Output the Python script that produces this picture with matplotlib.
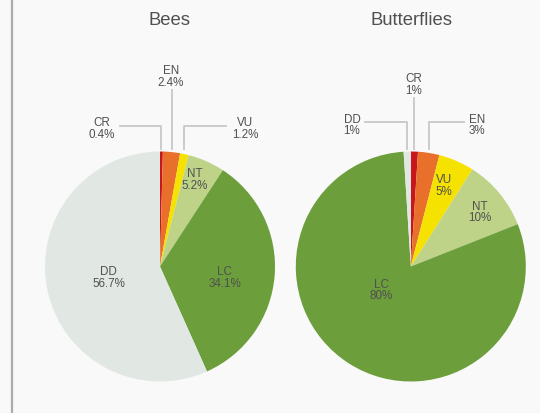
import numpy as np
import matplotlib.pyplot as plt

categories = ['CR', 'EN', 'VU', 'NT', 'LC', 'DD']
bees = [0.4, 2.4, 1.2, 5.2, 34.1, 56.7]
butterflies = [1, 3, 5, 10, 80, 1]
bees_labels = ['0.4%', '2.4%', '1.2%', '5.2%', '34.1%', '56.7%']
butterflies_labels = ['1%', '3%', '5%', '10%', '80%', '1%']
colors = ['#c8161d', '#e8702a', '#f6e200', '#bed388', '#6c9e3b', '#e1e8e3']

plt.rcParams['font.family'] = ['Liberation Sans', 'DejaVu Sans']
text_color = '#505050'
line_color = '#c8c8c8'
bg = '#f9f9f9'

# layout (pixel coords, y down): text x, text y, leader kind, leader start
bees_layout = {'CR': (102, 129, 'h', 120), 'EN': (171, 77, 'v', 91),
               'VU': (245, 129, 'h', 226), 'NT': (194.5, 180, None, None),
               'LC': (224.5, 278, None, None), 'DD': (108.5, 278, None, None)}
butterflies_layout = {'CR': (414, 85, 'v', 99), 'EN': (477, 125.5, 'h', 464),
                      'VU': (444, 186, None, None), 'NT': (479.5, 212.5, None, None),
                      'LC': (381, 290.5, None, None), 'DD': (352, 125.5, 'h', 365)}

panels = [('Bees', bees, bees_labels, bees_layout, (160, 267.5), 169, 127),
          ('Butterflies', butterflies, butterflies_labels, butterflies_layout, (410.8, 267.5), 411, 123)]
radius = 115

fig = plt.figure(figsize=(5.4, 4.14), dpi=100, facecolor=bg)
ax = fig.add_axes([0, 0, 1, 1])

for title, values, labels, layout, center, title_x, hline_y in panels:
    ax.pie(values, colors=colors, startangle=-90, counterclock=True,
           center=center, radius=radius, wedgeprops=dict(linewidth=0))
    ax.text(title_x, 25, title, ha='center', va='baseline', fontsize=13.3, color=text_color)

    total = sum(values)
    cum = np.cumsum(values) - np.array(values) / 2
    for i, cat in enumerate(categories):
        tx, ty, kind, start = layout[cat]
        ax.text(tx, ty, f'{cat}\n{labels[i]}', ha='center', va='center',
                fontsize=8.4, color=text_color, linespacing=0.98)
        if kind is None:
            continue
        ang = np.radians(360 * cum[i] / total)
        xa = center[0] + radius * np.sin(ang)
        yend = center[1] - radius - 3
        if kind == 'h':
            ax.plot([start, xa, xa], [hline_y, hline_y, yend], color=line_color, lw=1.3)
        else:
            ax.plot([xa, xa], [start, yend], color=line_color, lw=1.3)

ax.axvline(11.5, color='#ababab', lw=1.6)
ax.set_xlim(0, 540)
ax.set_ylim(414, 0)
ax.set_axis_off()

fig.savefig('out.png', dpi=100, facecolor=bg)
